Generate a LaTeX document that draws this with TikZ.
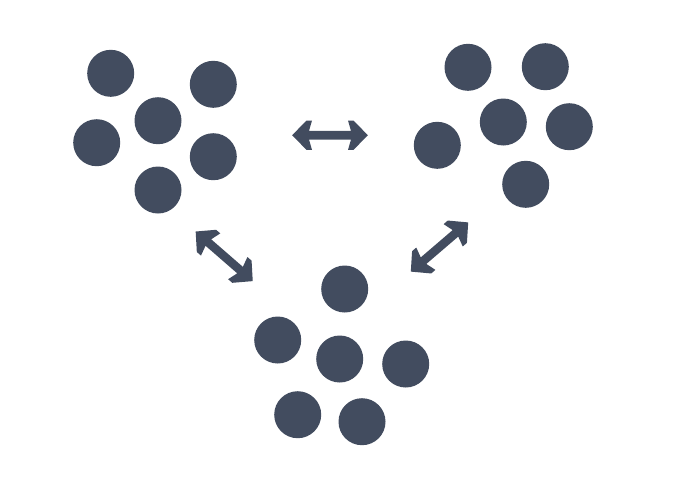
\documentclass[tikz,border=0pt]{standalone}
\definecolor{slate}{HTML}{424C5F}
\begin{document}
\begin{tikzpicture}[x=1pt,y=-1pt,
  dot/.style={circle,fill=slate,draw=none,inner sep=0pt,minimum size=47pt},
  dblarrow/.pic={\fill[slate] (-37.8,0) -- (-23.5,-14.7) -- (-18,-14.7) -- (-21,-4.3) -- (21,-4.3) -- (18,-14.7) -- (23.5,-14.7) -- (37.8,0) -- (23.5,14.7) -- (18,14.7) -- (21,4.3) -- (-21,4.3) -- (-18,14.7) -- (-23.5,14.7) -- cycle;}]
\useasboundingbox[fill=white] (0,0) rectangle (679,491);
% top-left group
\node[dot] (l1) at (110.7,73.3) {};
\node[dot] (l2) at (213.3,84.3) {};
\node[dot] (l3) at (158,120.7) {};
\node[dot] (l4) at (96.7,142.7) {};
\node[dot] (l5) at (213.3,156.7) {};
\node[dot] (l6) at (158,190) {};
% top-right group
\node[dot] (r1) at (468,67.3) {};
\node[dot] (r2) at (545.3,66.7) {};
\node[dot] (r3) at (503.3,122) {};
\node[dot] (r4) at (569.3,126.7) {};
\node[dot] (r5) at (437.3,145.3) {};
\node[dot] (r6) at (525.7,184.3) {};
% bottom group
\node[dot] (b1) at (344.7,289) {};
\node[dot] (b2) at (277.7,340) {};
\node[dot] (b3) at (339.7,359) {};
\node[dot] (b4) at (405.7,364) {};
\node[dot] (b5) at (297.7,414.7) {};
\node[dot] (b6) at (362,421.7) {};
% double arrows
\pic (ah) at (330,135.2) {dblarrow};
\pic[rotate=-41] (al) at (224.2,256.3) {dblarrow};
\pic[rotate=40.6] (ar) at (439.5,247) {dblarrow};
\end{tikzpicture}
\end{document}
